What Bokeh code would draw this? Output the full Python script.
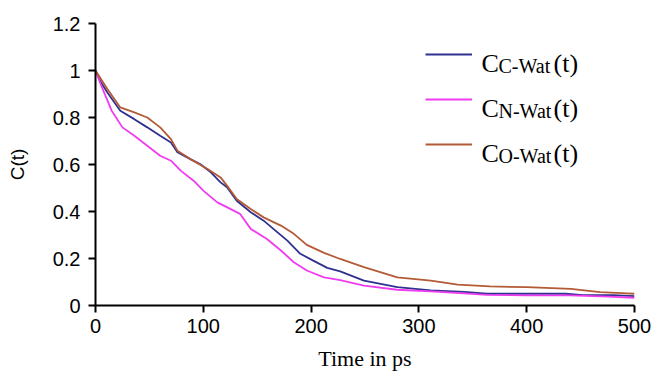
from bokeh.plotting import figure
from bokeh.models import Range1d, Legend, LegendItem, Label, FixedTicker
from bokeh.embed import file_html
from bokeh.resources import INLINE

# ---- data ----
t_c = [0, 5, 11, 23, 36, 48, 60, 70, 76, 88, 97, 107, 116, 122, 131, 144, 156, 165,
       178, 190, 202, 215, 227, 249, 280, 311, 342, 363, 400, 436, 452, 480, 500]
c_c = [1.0, 0.95, 0.906, 0.829, 0.793, 0.758, 0.722, 0.694, 0.652, 0.623, 0.602, 0.567,
       0.524, 0.503, 0.446, 0.397, 0.361, 0.326, 0.276, 0.220, 0.191, 0.160, 0.145, 0.106,
       0.078, 0.064, 0.058, 0.050, 0.050, 0.050, 0.044, 0.044, 0.040]

t_n = [0, 6, 15, 25, 36, 48, 60, 70, 79, 91, 100, 113, 125, 134, 144, 159, 172, 184, 196,
       212, 227, 249, 280, 311, 342, 363, 400, 440, 476, 500]
c_n = [1.0, 0.928, 0.829, 0.758, 0.722, 0.680, 0.637, 0.616, 0.574, 0.531, 0.489, 0.439,
       0.411, 0.390, 0.326, 0.283, 0.234, 0.184, 0.149, 0.120, 0.108, 0.085, 0.067, 0.060,
       0.052, 0.045, 0.043, 0.043, 0.038, 0.033]

t_o = [0, 11, 23, 36, 48, 60, 70, 76, 88, 104, 116, 122, 131, 144, 156, 172, 184, 196,
       212, 227, 249, 280, 311, 336, 366, 400, 441, 468, 493, 500]
c_o = [1.0, 0.921, 0.843, 0.822, 0.800, 0.758, 0.708, 0.659, 0.623, 0.581, 0.545, 0.510,
       0.453, 0.411, 0.375, 0.340, 0.305, 0.258, 0.224, 0.198, 0.163, 0.120, 0.106, 0.089,
       0.081, 0.078, 0.071, 0.057, 0.052, 0.050]

x_ticks = [0, 100, 200, 300, 400, 500]
y_ticks = [0, 0.2, 0.4, 0.6, 0.8, 1.0, 1.2]
y_tick_labels = ["0", "0.2", "0.4", "0.6", "0.8", "1", "1.2"]

series_subs = ["C-Wat", "N-Wat", "O-Wat"]
colors = ["#30308f", "#f03cf0", "#b35a36"]

p = figure(frame_width=539, frame_height=282, output_backend="svg", toolbar_location=None,
           x_range=Range1d(0, 500), y_range=Range1d(0, 1.2),
           min_border_left=95, min_border_right=18, min_border_top=23, min_border_bottom=71,
           background_fill_color="white", border_fill_color="white")
p.outline_line_color = None
p.xgrid.visible = False
p.ygrid.visible = False

for ax in (p.xaxis[0], p.yaxis[0]):
    ax.axis_line_width = 2
    ax.axis_line_color = "black"
    ax.major_tick_line_width = 2
    ax.major_tick_line_color = "black"
    ax.major_tick_out = 7
    ax.major_tick_in = 0
    ax.minor_tick_line_color = None
    ax.major_label_text_font = "Liberation Sans"
    ax.major_label_text_font_size = "20px"
    ax.major_label_text_color = "black"
    ax.axis_label_text_font_style = "normal"
    ax.axis_label_text_color = "black"

p.xaxis.ticker = FixedTicker(ticks=x_ticks)
p.yaxis.ticker = FixedTicker(ticks=y_ticks)
p.yaxis.major_label_overrides = {v: s for v, s in zip(y_ticks, y_tick_labels)}
p.xaxis.major_label_standoff = 6
p.yaxis.major_label_standoff = 8

p.xaxis.axis_label = "Time in ps"
p.xaxis.axis_label_text_font = "Liberation Serif"
p.xaxis.axis_label_text_font_size = "22px"
p.xaxis.axis_label_standoff = 10
p.yaxis.axis_label = "C(t)"
p.yaxis.axis_label_text_font = "Liberation Sans"
p.yaxis.axis_label_text_font_size = "19px"
p.yaxis.axis_label_standoff = 22

renderers = []
for tt, cc, col in zip([t_c, t_n, t_o], [c_c, c_n, c_o], colors):
    r = p.line(tt, cc, line_color=col, line_width=1.8)
    renderers.append(r)

legend = Legend(items=[LegendItem(label=" ", renderers=[r]) for r in renderers],
                location=(330, 151), orientation="vertical",
                glyph_width=47, glyph_height=20, label_height=20, label_width=1,
                spacing=25, padding=0, margin=0,
                border_line_color=None, background_fill_alpha=0,
                label_text_font_size="1px")
p.add_layout(legend)

# legend texts with subscripts (screen units relative to the frame)
for i, sub in enumerate(series_subs):
    base = 242 - 45 * i
    p.add_layout(Label(x=386, y=base, x_units="screen", y_units="screen", text="C",
                       text_font="Liberation Serif", text_font_size="26px",
                       text_baseline="alphabetic", text_color="black"))
    p.add_layout(Label(x=403, y=base - 2, x_units="screen", y_units="screen", text=sub,
                       text_font="Liberation Serif", text_font_size="20px",
                       text_baseline="alphabetic", text_color="black"))
    p.add_layout(Label(x=458, y=base, x_units="screen", y_units="screen", text="(t)",
                       text_font="Liberation Serif", text_font_size="26px",
                       text_baseline="alphabetic", text_color="black"))

open("out.html", "w").write(file_html(p, INLINE))
